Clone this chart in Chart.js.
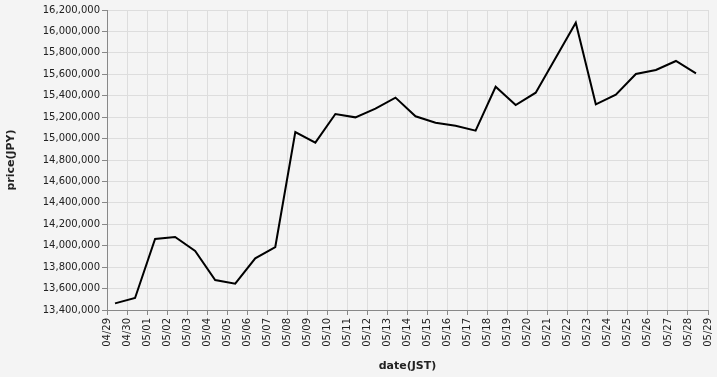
<!DOCTYPE html>
<html>
<head>
<meta charset="utf-8">
<script src="https://cdn.jsdelivr.net/npm/chart.js@4"></script>
<style>
  html, body { margin: 0; padding: 0; background: #f4f4f4; }
  #wrap { width: 717px; height: 377px; }
</style>
</head>
<body>
<div id="wrap"><canvas id="myChart" width="717" height="377"></canvas></div>
<script>
// data (one point per day, sampled around 09:30 JST)
let startDay = { month: 4, day: 29 };
let dayOffset = 0.4;
let prices = [
  13462000, 13512000, 14063000, 14081000, 13951000, 13680000, 13646000,
  13882000, 13988000, 15061000, 14962000, 15229000, 15198000, 15279000,
  15382000, 15208000, 15148000, 15120000, 15074000, 15484000, 15313000,
  15428000, 15755000, 16082000, 15320000, 15410000, 15603000, 15640000,
  15724000, 15609000,
];
let yTicks = { min: 13400000, max: 16200000, step: 200000 };
let xDays = { min: 0, max: 30 };

let font = "'DejaVu Sans', Verdana, sans-serif";

function dayLabel(n) {
  let d = new Date(2023, startDay.month - 1, startDay.day + n);
  let mm = String(d.getMonth() + 1).padStart(2, "0");
  let dd = String(d.getDate()).padStart(2, "0");
  return `${mm}/${dd}`;
}

let points = prices.map((p, i) => ({ x: i + dayOffset, y: p }));

const ctx = document.getElementById("myChart").getContext("2d");
const myChart = new Chart(ctx, {
  type: "line",
  data: {
    datasets: [
      {
        data: points,
        borderColor: "#000",
        borderWidth: 2,
        pointRadius: 0,
        tension: 0,
        fill: false,
      },
    ],
  },
  options: {
    responsive: false,
    animation: false,
    layout: { padding: { top: 10, right: 9, left: 0, bottom: 0 } },
    plugins: {
      legend: { display: false },
      tooltip: { enabled: false },
    },
    scales: {
      x: {
        type: "linear",
        min: xDays.min,
        max: xDays.max,
        afterFit: (scale) => {
          scale.height = 67;
          scale.paddingLeft = 0;
          scale.paddingRight = 0;
        },
        ticks: {
          stepSize: 1,
          autoSkip: false,
          maxRotation: 90,
          minRotation: 90,
          padding: 3,
          color: "#222",
          font: { family: font, size: 10 },
          callback: (v) => dayLabel(v),
        },
        grid: { color: "#dddddd", tickColor: "#888", tickLength: 5 },
        border: { color: "#888" },
        title: {
          display: true,
          text: "date(JST)",
          color: "#222",
          font: { family: font, size: 11, weight: "bold" },
          padding: { top: 0, bottom: 4 },
        },
      },
      y: {
        min: yTicks.min,
        max: yTicks.max,
        afterFit: (scale) => {
          scale.width = 107;
          scale.paddingTop = 0;
          scale.paddingBottom = 0;
        },
        ticks: {
          stepSize: yTicks.step,
          padding: 2,
          color: "#222",
          font: { family: font, size: 10 },
          callback: (v) => v.toLocaleString("en-US"),
        },
        grid: { color: "#dddddd", tickColor: "#888", tickLength: 5 },
        border: { color: "#888" },
        title: {
          display: true,
          text: "price(JPY)",
          color: "#222",
          font: { family: font, size: 11, weight: "bold" },
          padding: { top: 5, bottom: 0 },
        },
      },
    },
  },
});
</script>
</body>
</html>
